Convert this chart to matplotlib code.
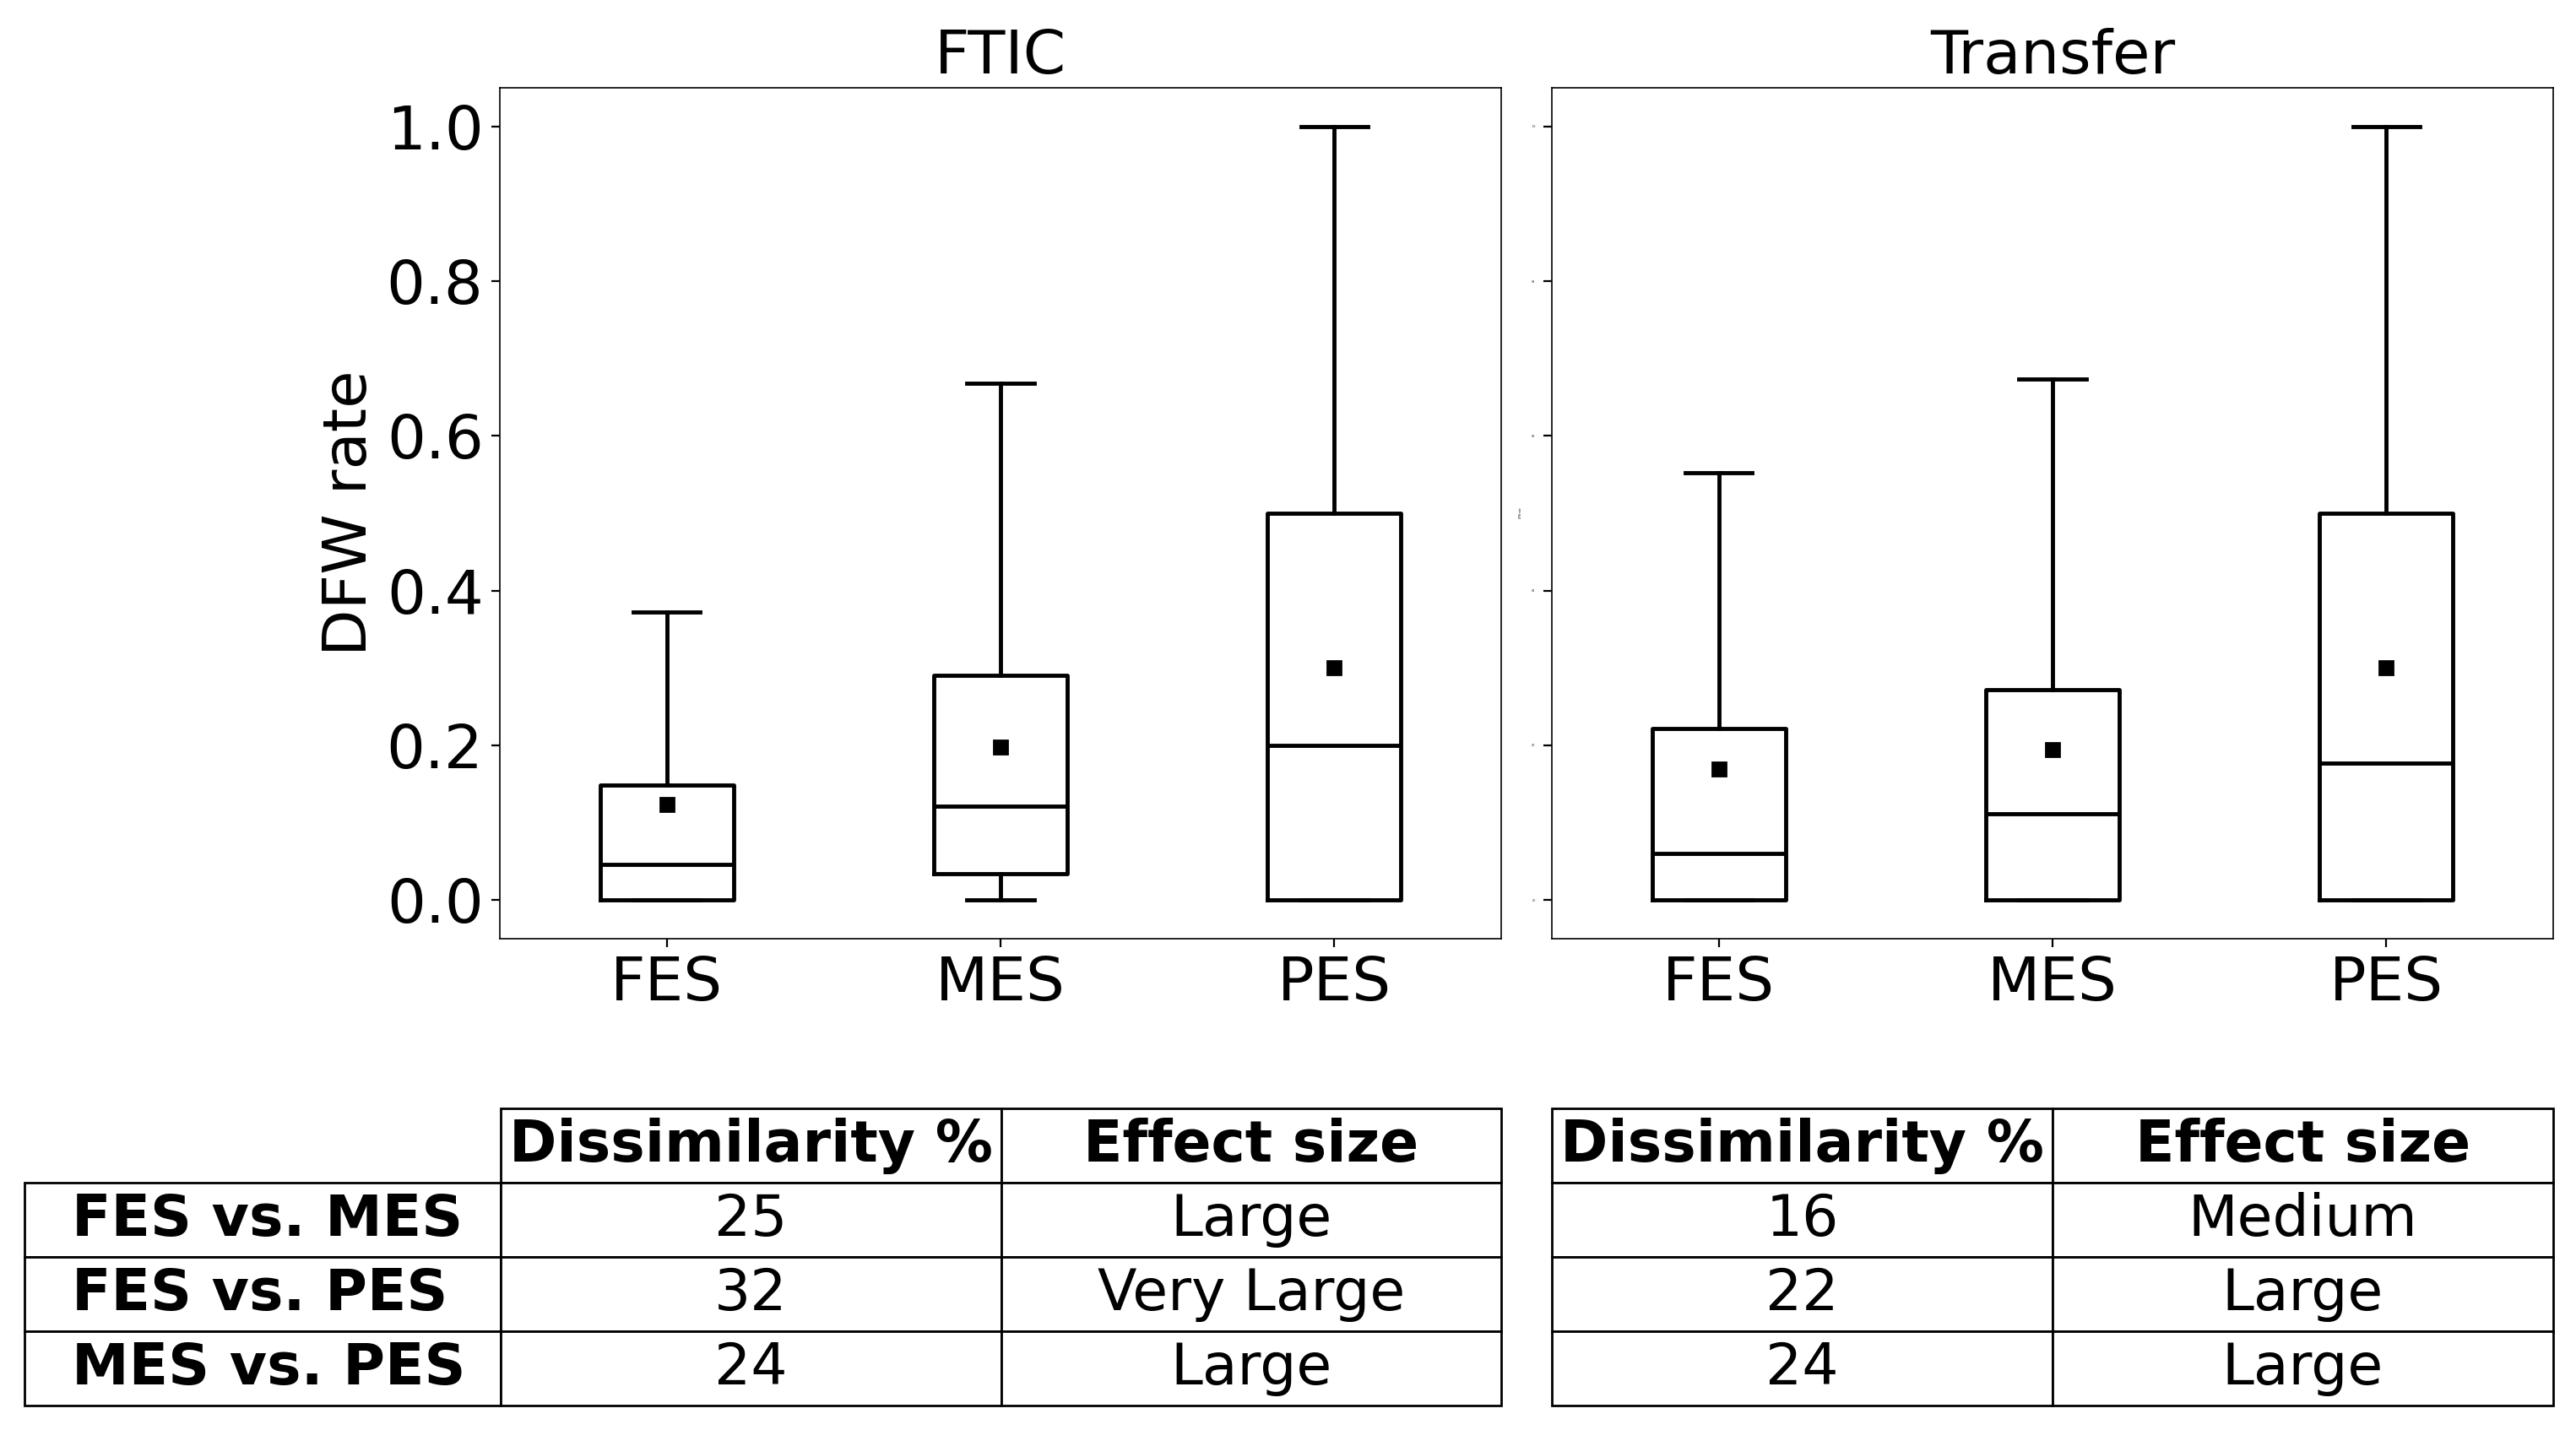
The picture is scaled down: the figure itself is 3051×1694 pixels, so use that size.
import matplotlib
matplotlib.use("Agg")
import matplotlib.pyplot as plt

groups = ['FES', 'MES', 'PES']
panels = ['FTIC', 'Transfer']

# box statistics: low whisker, q1, median, q3, high whisker, mean
ftic_whislo = [0.0, 0.0, 0.0]
ftic_q1 = [0.0, 0.034, 0.0]
ftic_med = [0.046, 0.121, 0.2]
ftic_q3 = [0.149, 0.291, 0.5]
ftic_whishi = [0.372, 0.668, 1.0]
ftic_mean = [0.123, 0.198, 0.3]

tr_whislo = [0.0, 0.0, 0.0]
tr_q1 = [0.0, 0.0, 0.0]
tr_med = [0.06, 0.111, 0.177]
tr_q3 = [0.222, 0.272, 0.5]
tr_whishi = [0.552, 0.673, 1.0]
tr_mean = [0.169, 0.194, 0.3]

row_labels = ['FES vs. MES', 'FES vs. PES', 'MES vs. PES']
col_labels = ['Dissimilarity %', 'Effect size']
ftic_dissim = ['25', '32', '24']
ftic_effect = ['Large', 'Very Large', 'Large']
tr_dissim = ['16', '22', '24']
tr_effect = ['Medium', 'Large', 'Large']


def make_stats(lo, q1, med, q3, hi, mean):
    out = []
    for i in range(len(groups)):
        out.append(dict(label=groups[i], whislo=lo[i], q1=q1[i], med=med[i],
                        q3=q3[i], whishi=hi[i], mean=mean[i], fliers=[]))
    return out


W, H = 3051, 1694
fig = plt.figure(figsize=(W / 200, H / 200), dpi=200)

AW = 1186
ax1 = fig.add_axes([592 / W, 1 - 1112 / H, AW / W, 1008 / H])
ax2 = fig.add_axes([1838 / W, 1 - 1112 / H, AW / W, 1008 / H])

lw = 1.75
line = dict(color='black', linewidth=lw)
meanp = dict(marker='s', markerfacecolor='black', markeredgecolor='black', markersize=6)

stats_all = [make_stats(ftic_whislo, ftic_q1, ftic_med, ftic_q3, ftic_whishi, ftic_mean),
             make_stats(tr_whislo, tr_q1, tr_med, tr_q3, tr_whishi, tr_mean)]

for ax, st, title in zip([ax1, ax2], stats_all, panels):
    ax.bxp(st, positions=[1, 2, 3], widths=0.4, showmeans=True, showfliers=False,
           boxprops=line, whiskerprops=line, capprops=line, medianprops=line,
           meanprops=meanp)
    ax.set_xlim(0.5, 3.5)
    ax.set_ylim(-0.05, 1.05)
    ax.set_title(title, fontsize=26)
    ax.tick_params(axis='x', labelsize=26)
    for s in ax.spines.values():
        s.set_linewidth(0.6)

ax1.tick_params(axis='y', labelsize=26)
ax1.set_ylabel('DFW rate', fontsize=26, labelpad=3)
# right panel keeps its y labels, but at a tiny size
ax2.tick_params(axis='y', labelsize=1)
ax2.set_ylabel('DFW rate', fontsize=1)

# tables under each panel
y0 = (1112 - 1665) / 1008
th = (1665 - 1313) / 1008

cells1 = [[''] + col_labels] + [[row_labels[i], ftic_dissim[i], ftic_effect[i]] for i in range(3)]
left_x = (29 - 592) / AW
tot = AW - left_x * AW
t1 = ax1.table(cellText=cells1, cellLoc='center',
               colWidths=[565 / tot, AW / 2 / tot, AW / 2 / tot],
               bbox=[left_x, y0, 1 - left_x, th])

cells2 = [col_labels] + [[tr_dissim[i], tr_effect[i]] for i in range(3)]
t2 = ax2.table(cellText=cells2, cellLoc='center', colWidths=[0.5, 0.5],
               bbox=[0, y0, 1, th])

for t in [t1, t2]:
    t.auto_set_font_size(False)
    for (r, c), cell in t.get_celld().items():
        cell.set_linewidth(1.0)
        cell.get_text().set_fontsize(24.5)
        if r == 0:
            cell.get_text().set_fontweight('bold')

for r in range(1, 4):
    t1[r, 0].get_text().set_fontweight('bold')
    t1[r, 0].set_text_props(ha='left')
    t1[r, 0]._loc = 'left'
t1[0, 0].set_visible(False)

fig.savefig('out.png', dpi=200)
